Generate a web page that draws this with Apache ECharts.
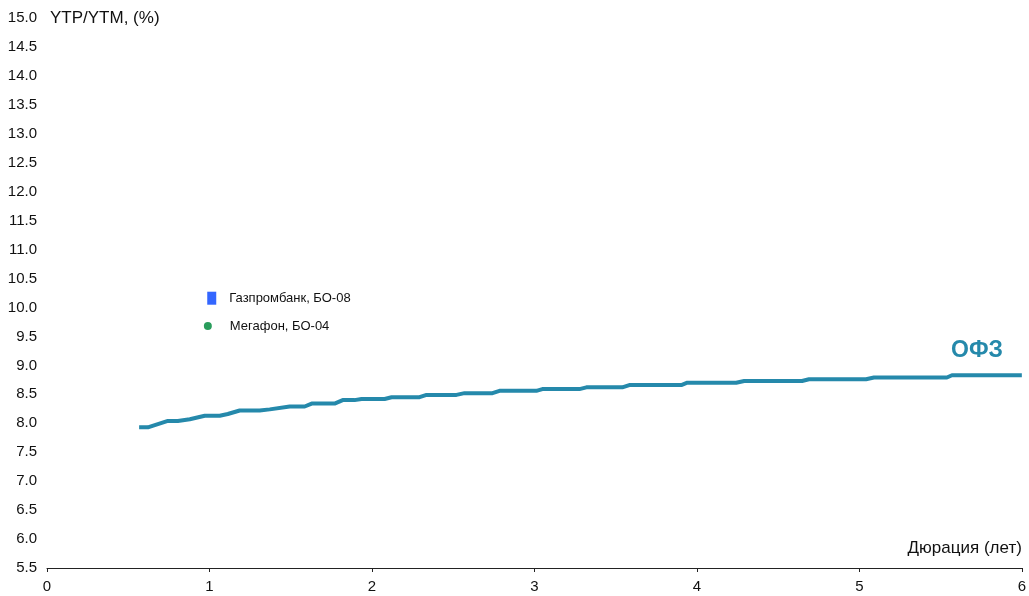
<!DOCTYPE html>
<html>
<head>
<meta charset="utf-8">
<script src="https://cdn.jsdelivr.net/npm/echarts@6/dist/echarts.min.js"></script>
<style>
html,body{margin:0;padding:0;background:#fff;}
#chart{width:1029px;height:596px;}
</style>
</head>
<body>
<div id="chart"></div>
<script>
// OFZ curve: duration (years), yield (%)
const ofzDuration = [0.567,0.621,0.744,0.805,0.879,0.971,1.063,1.113,1.186,1.309,1.371,1.494,1.586,1.629,1.770,1.820,1.893,1.936,2.078,2.121,2.293,2.336,2.520,2.570,2.742,2.785,3.012,3.049,3.277,3.320,3.541,3.584,3.904,3.941,4.242,4.291,4.647,4.690,5.041,5.090,5.539,5.570,6.0];
const ofzYield    = [7.93,7.93,8.04,8.04,8.07,8.13,8.13,8.16,8.22,8.22,8.24,8.29,8.29,8.34,8.34,8.40,8.40,8.42,8.42,8.45,8.45,8.49,8.49,8.52,8.52,8.56,8.56,8.59,8.59,8.62,8.62,8.66,8.66,8.70,8.70,8.73,8.73,8.76,8.76,8.79,8.79,8.83,8.83];
// Bonds
const bondNames    = ['Газпромбанк, БО-08','Мегафон, БО-04'];
const bondDuration = [1.014, 0.99];
const bondYield    = [10.16, 9.68];
const xTicks = [0,1,2,3,4,5,6];
const yMin = 5.5, yMax = 15.0, yStep = 0.5;

const FONT = '"Liberation Sans", Arial, sans-serif';
const chart = echarts.init(document.getElementById('chart'));
chart.setOption({
  animation:false,
  backgroundColor:'#fff',
  grid:{left:47,right:6,top:18,bottom:28,containLabel:false},
  xAxis:{
    type:'value',min:xTicks[0],max:xTicks[xTicks.length-1],interval:1,
    axisLine:{show:true,lineStyle:{color:'#222',width:1}},
    axisTick:{show:true,length:4,lineStyle:{color:'#222'}},
    axisLabel:{color:'#111',fontSize:15,fontFamily:FONT,margin:11},
    splitLine:{show:false},
    name:'Дюрация (лет)',nameLocation:'end',nameGap:0,
    nameTextStyle:{color:'#111',fontSize:17,fontFamily:FONT,align:'right',verticalAlign:'bottom',padding:[0,0,11,0]}
  },
  yAxis:{
    type:'value',min:yMin,max:yMax,interval:yStep,
    axisLine:{show:false},axisTick:{show:false},
    axisLabel:{color:'#111',fontSize:15,fontFamily:FONT,margin:10,formatter:v=>v.toFixed(1)},
    splitLine:{show:false},
    name:'YTP/YTM, (%)',nameLocation:'end',nameGap:0,
    nameTextStyle:{color:'#111',fontSize:17,fontFamily:FONT,align:'left',verticalAlign:'middle',padding:[2,0,0,3]}
  },
  series:[
    {
      name:'ОФЗ',type:'line',showSymbol:false,
      data:ofzDuration.map((d,i)=>[d,ofzYield[i]]),
      lineStyle:{color:'#2589ab',width:4},
      itemStyle:{color:'#2589ab'},
      z:3
    },
    {
      name:bondNames[0],type:'scatter',symbol:'rect',symbolSize:[9,13],
      data:[[bondDuration[0],bondYield[0]]],
      itemStyle:{color:'#3366ff',opacity:1},
      label:{show:true,position:'right',distance:13,formatter:bondNames[0],color:'#111',fontSize:13,fontFamily:FONT}
    },
    {
      name:bondNames[1],type:'scatter',symbol:'circle',symbolSize:8,
      data:[[bondDuration[1],bondYield[1]]],
      itemStyle:{color:'#2a9d5c',opacity:1},
      label:{show:true,position:'right',distance:18,formatter:bondNames[1],color:'#111',fontSize:13,fontFamily:FONT}
    }
  ],
  graphic:[
    {type:'text',left:951,top:339,style:{text:'ОФЗ',fill:'#2589ab',font:'bold 23px "Liberation Sans", Arial, sans-serif'}}
  ]
});
</script>
</body>
</html>
